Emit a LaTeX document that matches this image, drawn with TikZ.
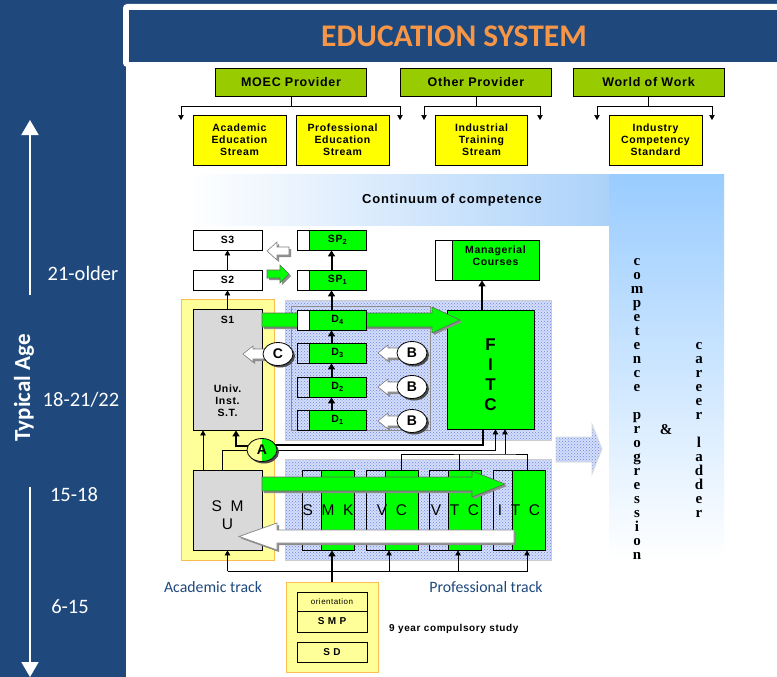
\documentclass[tikz,border=0pt]{standalone}
\usepackage{fontspec}
\setmainfont{Liberation Sans}
\newfontfamily\calibri{Carlito}
\newfontfamily\boxfont{Liberation Sans}[LetterSpace=6]
\newfontfamily\ladderfont{Liberation Serif}
\usetikzlibrary{arrows.meta,shapes.geometric,patterns,shadows}

\definecolor{navy}{RGB}{31,73,125}
\definecolor{titleorange}{RGB}{247,150,70}
\definecolor{provgreen}{RGB}{153,204,0}
\definecolor{streamyellow}{RGB}{255,255,0}
\definecolor{paleyellow}{RGB}{255,255,153}
\definecolor{panelorange}{RGB}{250,190,80}
\definecolor{brightgreen}{RGB}{0,255,0}
\definecolor{unigrey}{RGB}{217,217,217}
\definecolor{dotblue}{RGB}{105,135,225}
\definecolor{dotfill}{RGB}{212,222,250}
\definecolor{skyblue}{RGB}{153,204,255}
\definecolor{skyband}{RGB}{172,210,250}
\definecolor{shadowgrey}{RGB}{140,140,140}

\tikzset{
  prov/.style={draw, line width=0.8pt, fill=provgreen, minimum width=151pt, minimum height=28pt,
    inner sep=0pt, font=\boxfont\bfseries\fontsize{12.5}{14}\selectfont},
  stream/.style={draw, line width=0.8pt, fill=streamyellow, minimum width=93pt, minimum height=50pt,
    inner sep=0pt, align=center, font=\boxfont\bfseries\fontsize{10.5}{12}\selectfont},
  sbox/.style={draw, line width=0.8pt, fill=white, minimum width=69pt, minimum height=20pt,
    inner sep=0pt, font=\boxfont\bfseries\fontsize{10.5}{12}\selectfont},
  greybox/.style={draw, line width=0.8pt, fill=unigrey, minimum width=69pt, inner sep=0pt},
  split/.style={path picture={
    \fill[brightgreen] ([xshift=#1]path picture bounding box.north west) rectangle (path picture bounding box.south east);
    \draw[line width=0.8pt] ([xshift=#1]path picture bounding box.north west) -- ([xshift=#1]path picture bounding box.south west);}},
  conn/.style={line width=0.7pt, -{Triangle[length=5pt,width=5.5pt]}},
  heavy/.style={line width=2pt, -{Triangle[length=6pt,width=7pt]}},
  bubble/.style={ellipse, draw, line width=0.8pt, fill=white, minimum width=30pt, minimum height=23pt,
    inner sep=0pt, drop shadow={shadow xshift=2pt, shadow yshift=-2pt, fill=black!70, opacity=1},
    font=\bfseries\fontsize{14}{14}\selectfont},
  dotpanel/.style={draw=black!20, line width=1pt, preaction={fill=dotfill}, pattern=crosshatch dots, pattern color=dotblue},
  shadowed/.style={preaction={fill=shadowgrey, transform canvas={shift={(2pt,-2pt)}}}},
  agelabel/.style={text=white, inner sep=0pt, font=\calibri\fontsize{20.5}{24}\selectfont},
  tracklabel/.style={text=navy, inner sep=0pt, font=\calibri\fontsize{15.8}{18}\selectfont},
  ladder/.style={align=center, inner sep=0pt, font=\ladderfont\bfseries\fontsize{15}{14}\selectfont},
  small/.style={inner sep=0pt, align=center, font=\boxfont\bfseries\fontsize{10.5}{12}\selectfont},
}

\begin{document}
\begin{tikzpicture}[x=1pt, y=-1pt]
  \useasboundingbox (0,0) rectangle (777,677);

  % frame and title
  \fill[navy] (0,0) rectangle (777,677);
  \fill[white] (126,62) rectangle (777,677);
  \fill[white, rounded corners=4pt] (123,4) rectangle (790,67);
  \fill[navy] (129,10) rectangle (777,62);
  \node[text=titleorange, inner sep=0pt, font=\calibri\bfseries\fontsize{31.5}{36}\selectfont] (title) at (454,36.5) {EDUCATION SYSTEM};

  % typical age column
  \coordinate (agetop) at (30,120);
  \coordinate (agebottom) at (30,677);
  \draw[white, line width=2pt, -{Triangle[length=15pt,width=17pt]}] (30,295) -- (agetop);
  \draw[white, line width=2pt, -{Triangle[length=15pt,width=17pt]}] (30,487) -- (agebottom);
  \node[rotate=90, text=white, inner sep=0pt, font=\calibri\bfseries\fontsize{23}{28}\selectfont] (agetitle) at (24,388) {Typical Age};
  \foreach \n/\y/\t/\x in {a21/273/21-older/83, a18/400/{18-21/22}/81, a15/495/15-18/74, a6/607/6-15/70}
    \node[agelabel] (\n) at (\x,\y) {\t};

  % providers and streams
  \node[prov] (moec) at (291,82) {MOEC Provider};
  \node[prov] (other) at (476,82) {Other Provider};
  \node[prov] (wow) at (648.5,82) {World of Work};
  \foreach \p/\xa/\xb in {moec/181/400, other/424/540, wow/597/712}{
    \coordinate (\p-l) at (\xa,120);
    \coordinate (\p-r) at (\xb,120);
    \draw[conn] (\p.south) |- (\xa,106) -- (\p-l);
    \draw[conn] (\p.south) |- (\xb,106) -- (\p-r);
  }
  \node[stream] (acad) at (239.5,140) {Academic\\Education\\Stream};
  \node[stream] (prof) at (342.5,140) {Professional\\Education\\Stream};
  \node[stream, minimum width=92pt] (indus) at (481.5,140) {Industrial\\Training\\Stream};
  \node[stream] (ics) at (655.5,140) {Industry\\Competency\\Standard};

  % continuum band and ladder column
  \shade[left color=white, right color=skyband] (190,174) rectangle (609,225);
  \shade[top color=skyblue, bottom color=white] (609,174) rectangle (724,560);
  \node[inner sep=0pt, font=\boxfont\bfseries\fontsize{13}{14}\selectfont] (cont) at (452,200) {Continuum of competence};
  \node[ladder] (comp) at (637,408.5) {c\\o\\m\\p\\e\\t\\e\\n\\c\\e\\[14pt]p\\r\\o\\g\\r\\e\\s\\s\\i\\o\\n};
  \node[ladder] (career) at (699,430) {c\\a\\r\\e\\e\\r\\[14pt]l\\a\\d\\d\\e\\r};
  \node[ladder] (amp) at (666,430) {\&};
  \path[dotpanel, draw=black!15, line width=0.8pt]
    (556,437) -- (592,437) -- (592,424) -- (602,449) -- (592,474) -- (592,462) -- (556,462) -- cycle;

  % panels
  \draw[fill=paleyellow, draw=panelorange, line width=1pt] (181,299) rectangle (274,560);
  \path[dotpanel] (285,300) rectangle (551,440);
  \path[dotpanel] (285,459) rectangle (551,560);
  \draw[black!45, line width=0.6pt] (291,306) rectangle (430,430);

  % academic track
  \node[sbox] (s3) at (227.5,240) {S3};
  \node[sbox] (s2) at (227.5,280) {S2};
  \node[greybox, minimum height=121pt] (s1) at (227.5,369.5) {};
  \node[small] (s1-t) at (227.5,320) {S1};
  \node[small] (univ) at (227.5,401) {Univ.\\Inst.\\S.T.};
  \node[greybox, minimum height=80pt] (smu) at (227.5,510) {};
  \node[inner sep=0pt, align=center, font=\fontsize{15.5}{18}\selectfont] (smu-t) at (227.5,515) {S~~M\\U};
  \draw[conn] (s1.north) -- (s2.south);
  \draw[conn] (s2.north) -- (s3.south);

  % FITC and managerial courses
  \node[draw, line width=0.8pt, fill=brightgreen, minimum width=87pt, minimum height=119pt, inner sep=0pt] (fitc) at (490.5,369.5) {};
  \node[inner sep=0pt, align=center, font=\bfseries\fontsize{17}{20}\selectfont] (fitc-t) at (490.5,375) {F\\I\\T\\C};
  \node[draw, line width=0.8pt, fill=white, minimum width=104pt, minimum height=40pt, inner sep=0pt, split=17pt] (mgr) at (487,260) {};
  \node[small] (mgr-t) at (495.5,255.5) {Managerial\\Courses};
  \draw[heavy] (fitc.north -| 482,0) -- (mgr.south -| 482,0);

  % upper green arrow, then the diploma boxes over it
  \draw[shadowed, fill=brightgreen, draw=black!60, line width=0.6pt]
    (262,313) -- (432,313) -- (432,307) -- (460,320) -- (432,333) -- (432,327) -- (262,327) -- cycle;
  \foreach \n/\y/\lab/\lcol in {sp2/240/SP\textsubscript{2}/white, sp1/280/SP\textsubscript{1}/white,
      d4/320/D\textsubscript{4}/white, d3/353/D\textsubscript{3}/none, d2/387/D\textsubscript{2}/none, d1/420/D\textsubscript{1}/none}
    \node[sbox, fill=\lcol, split=12pt] (\n) at (331.5,\y) {\hspace*{12pt}\lab};
  \foreach \a/\b in {d1/d2, d2/d3, d3/d4, d4/sp1, sp1/sp2}
    \draw[heavy] (\a.north) -- (\b.south);

  % small arrows between the tracks
  \draw[shadowed, fill=brightgreen, draw=black!60, line width=0.6pt]
    (267,270) -- (280,270) -- (280,265) -- (289,274) -- (280,283) -- (280,278) -- (267,278) -- cycle;
  \draw[shadowed, fill=white, draw=black!50, line width=0.6pt]
    (289,247) -- (277,247) -- (277,242) -- (267,251) -- (277,260) -- (277,255) -- (289,255) -- cycle;
  \draw[shadowed, fill=white, draw=black!50, line width=0.6pt]
    (268,349) -- (253,349) -- (253,346) -- (243,354) -- (253,362) -- (253,359) -- (268,359) -- cycle;
  \foreach \y in {353,387,421}
    \draw[shadowed, fill=white, draw=black!50, line width=0.6pt]
      (400,\y-5) -- (388,\y-5) -- (388,\y-8) -- (378,\y) -- (388,\y+8) -- (388,\y+5) -- (400,\y+5) -- cycle;

  % professional colleges
  \foreach \n/\xc/\lab in {smk/328/S~~M~~K, vc/392/V~~C, vtc/455/V~~T~~C, itc/519/I~~T~~C}
    \node[draw, line width=0.8pt, minimum width=52pt, minimum height=80pt, inner sep=0pt, split=19.5pt,
      font=\fontsize{15.5}{18}\selectfont] (\n) at (\xc,510) {\lab};
  \draw[shadowed, fill=brightgreen, draw=black!60, line width=0.6pt]
    (262,477) -- (472,477) -- (472,471) -- (505,484) -- (472,497) -- (472,491) -- (262,491) -- cycle;
  \draw[shadowed, fill=white, draw=black!45, line width=0.8pt]
    (514,530) -- (277,530) -- (277,523) -- (239,536.5) -- (277,550) -- (277,543) -- (514,543) -- cycle;

  % links to FITC
  \coordinate (upbar) at (505,454);
  \draw[line width=0.6pt] ([xshift=9pt]vc.north) |- (upbar) -| ([xshift=8pt]itc.north);
  \draw[line width=0.6pt] ([xshift=4pt]vtc.north) -- ++(0,-16);
  \draw[conn] (upbar) -- ([xshift=14.5pt]fitc.south);

  % links around A
  \draw[line width=0.6pt] ([xshift=-5.5pt]smu.north) |- (262,450);
  \draw[heavy] ([yshift=4pt]262,450) -| ([xshift=8.5pt]s1.south);
  \draw[conn] ([xshift=-24.5pt]smu.north) -- ([xshift=-24.5pt]s1.south);
  \draw[line width=2pt] ([yshift=5pt]262,450) -| ([xshift=-7.5pt]fitc.south);
  \draw[conn] (262,450) -| ([xshift=5pt]fitc.south);

  % bubbles
  \node[bubble] (C) at (278,354) {C};
  \foreach \y [count=\i] in {353,387,421}
    \node[bubble] (B\i) at (412,\y) {B};
  \node[bubble, fill=paleyellow, path picture={\fill[brightgreen] (path picture bounding box.north) rectangle (path picture bounding box.south east);}] (A) at (262,450) {A};

  % compulsory study
  \node[draw=panelorange, fill=paleyellow, line width=1pt, minimum width=92pt, minimum height=90pt, inner sep=0pt] (compul) at (332,627) {};
  \node[draw, line width=0.8pt, minimum width=70pt, minimum height=19pt, inner sep=0pt, font=\boxfont\fontsize{8}{9}\selectfont] (orient) at (332,601.5) {orientation};
  \node[draw, line width=0.8pt, minimum width=70pt, minimum height=21pt, inner sep=0pt, font=\boxfont\bfseries\fontsize{10}{11}\selectfont] (smp) at (332,621.5) {S M P};
  \node[draw, line width=0.8pt, minimum width=70pt, minimum height=20pt, inner sep=0pt, font=\boxfont\bfseries\fontsize{10}{11}\selectfont] (sd) at (332,652) {S D};
  \node[anchor=west, inner sep=0pt, font=\boxfont\bfseries\fontsize{10}{11}\selectfont] (nine) at (389,629) {9 year compulsory study};

  % links from below
  \coordinate (lowbar) at (0,571);
  \draw[line width=0.6pt] (smu.south |- lowbar) -- ++(300,0);
  \foreach \n/\dx in {smu/0, vc/-3, vtc/3, itc/8}
    \draw[conn] ([xshift=\dx pt]\n.south) ++(0,21) -- ([xshift=\dx pt]\n.south);
  \draw[heavy] (compul.north) -- (compul.north |- smk.south);

  \node[tracklabel] (acadtrack) at (213,587) {Academic track};
  \node[tracklabel] (proftrack) at (486,587) {Professional track};
\end{tikzpicture}
\end{document}
